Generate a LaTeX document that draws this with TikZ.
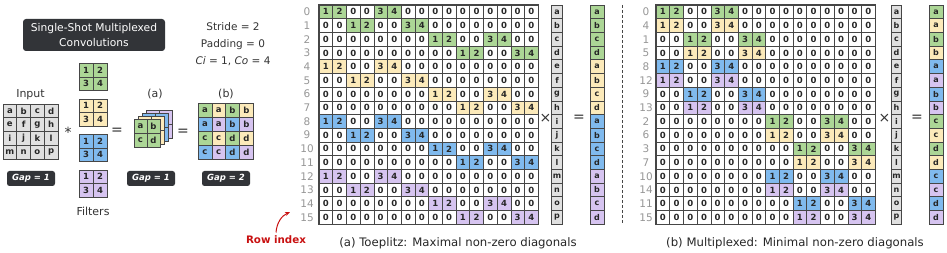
\documentclass[tikz,border=0pt]{standalone}
\usepackage{fontspec}
\setmainfont{DejaVu Sans}
\usetikzlibrary{arrows.meta,positioning}

\definecolor{ch0}{RGB}{172,214,150}
\definecolor{ch1}{RGB}{252,234,186}
\definecolor{ch2}{RGB}{128,186,238}
\definecolor{ch3}{RGB}{214,196,240}
\definecolor{vecgray}{RGB}{224,224,224}
\definecolor{boxdark}{RGB}{50,52,56}
\definecolor{gridline}{RGB}{70,70,70}
\definecolor{idxgray}{RGB}{150,150,150}
\definecolor{rowred}{RGB}{200,16,16}

\begin{document}
\begin{tikzpicture}[x=1pt, y=-1pt,
        cell/.style={draw=gridline, line width=0.6pt, minimum width=13.7pt, minimum height=13.7pt, inner sep=0pt, font=\fontsize{8.5}{9}\selectfont\bfseries, text=black!85},
        veccell/.style={cell, minimum width=10.5pt, fill=vecgray, font=\fontsize{8}{9}\selectfont\bfseries},
        rescell/.style={cell, minimum width=14pt, font=\fontsize{8}{9}\selectfont\bfseries},
        smallcell/.style={cell, minimum width=13.8pt, minimum height=13.8pt},
        rowlab/.style={font=\fontsize{10.5}{11}\selectfont, text=idxgray},
        border/.style={draw=gridline, line width=1pt},
        darkbox/.style={fill=boxdark, text=white, rounded corners=3pt, align=center},
        gapbox/.style={darkbox, rounded corners=2.5pt, minimum width=48pt, minimum height=15pt, inner sep=0pt, font=\fontsize{8.5}{9}\selectfont\bfseries\itshape},
        plain/.style={font=\fontsize{11}{12}\selectfont, text=black!80},
        op/.style={font=\fontsize{14}{14}\selectfont, text=black!80},
        caption/.style={font=\fontsize{11.7}{13}\selectfont, text=black!85},
        sepline/.style={draw=gridline, line width=1pt, dash pattern=on 3pt off 2pt},
        rowarrow/.style={-{Stealth[length=5pt,width=4pt]}, line width=1pt, draw=rowred}
      ]
      \useasboundingbox (0,0) rectangle (947,253);

      % left panel
      \node[darkbox, minimum width=142pt, minimum height=32pt, inner sep=2pt, font=\fontsize{10.7}{14.5}\selectfont] (title) at (94,35) {Single-Shot Multiplexed\\Convolutions};
      \node[plain, align=center, font=\fontsize{10.5}{17}\selectfont] (params) at (233,44) {Stride = 2\\Padding = 0\\\textit{Ci} = 1, \textit{Co} = 4};

      \node[plain] (inputlab) at (30.5,95) {Input};
      \foreach \l [count=\k from 0] in {a,...,p}{
        \pgfmathtruncatemacro\rr{\k/4}
        \pgfmathtruncatemacro\cc{mod(\k,4)}
        \node[smallcell, minimum width=13.75pt, fill=vecgray] (inp-\k) at ({3+13.75*(\cc+0.5)},{104+13.75*(\rr+0.5)}) {\l};
      }
      \node[gapbox] (gapin) at (31,178.5) {Gap = 1};

      \node[op] (conv) at (68,132) {*};
      \foreach \f in {0,...,3}{
        \foreach \v [count=\k from 0] in {1,2,3,4}{
          \pgfmathtruncatemacro\rr{\k/2}
          \pgfmathtruncatemacro\cc{mod(\k,2)}
          \node[cell, minimum width=14pt, minimum height=13.5pt, fill=ch\f] (filt-\f-\k) at ({86+14*\cc},{70.25+35.5*\f+13.5*\rr}) {\v};
        }
      }
      \node[plain] (filterlab) at (93,211) {Filters};

      \node[op] (eqone) at (117,131) {=};
      \node[plain] (alab) at (155,94) {(a)};
      \foreach \lay in {3,2,1,0}{
        \foreach \l [count=\k from 0] in {a,b,c,d}{
          \pgfmathtruncatemacro\rr{\k/2}
          \pgfmathtruncatemacro\cc{mod(\k,2)}
          \node[cell, minimum width=13pt, minimum height=14pt, fill=ch\lay] (stack-\lay-\k) at ({140.5+13*\cc+4*\lay},{126+14*\rr-3*\lay}) {\ifnum\lay=0 \l\fi};
        }
      }
      \node[gapbox] (gapa) at (151,178.5) {Gap = 1};

      \node[op] (eqtwo) at (183,132) {=};
      \node[plain] (blab) at (226,94) {(b)};
      \foreach \l/\cl [count=\k from 0] in {a/0,a/1,b/0,b/1,a/2,a/3,b/2,b/3,c/0,c/1,d/0,d/1,c/2,c/3,d/2,d/3}{
        \pgfmathtruncatemacro\rr{\k/4}
        \pgfmathtruncatemacro\cc{mod(\k,4)}
        \node[smallcell, fill=ch\cl] (outb-\k) at ({198+13.8*(\cc+0.5)},{103+14*(\rr+0.5)}) {\l};
      }
      \node[gapbox] (gapb) at (226,178.5) {Gap = 2};

      \node[font=\fontsize{10.3}{11}\selectfont\bfseries, text=rowred] (rowidx) at (276,240) {Row index};
      \coordinate (rowtip) at (290,212);
      \draw[rowarrow] (rowidx.north) to[out=85,in=205] (rowtip);

      % (a) Toeplitz
      \foreach \r in {0,...,15}{
        \pgfmathtruncatemacro\ch{\r/4}
        \pgfmathtruncatemacro\pos{mod(\r,4)}
        \pgfmathtruncatemacro\base{2*mod(\pos,2)+8*floor(\pos/2)}
        \node[rowlab] (ta-lab-\r) at (307,{11.85+13.7*\r}) {\r};
        \foreach \c in {0,...,15}{
          \pgfmathtruncatemacro\off{\c-\base}
          \pgfmathtruncatemacro\val{(\off==0)+2*(\off==1)+3*(\off==4)+4*(\off==5)}
          \ifnum\val=0 \def\cfill{white}\else\def\cfill{ch\ch}\fi
          \node[cell, fill=\cfill] (ta-\r-\c) at ({325.85+13.7*\c},{11.85+13.7*\r}) {\val};
        }
      }
      \draw[border] (ta-0-0.north west) rectangle (ta-15-15.south east);
      \foreach \l [count=\k from 0] in {a,...,p}{
        \node[veccell] (xa-\k) at (557,{11.85+13.7*\k}) {\l};
      }
      \foreach \l/\cl [count=\k from 0] in {a/0,b/0,c/0,d/0,a/1,b/1,c/1,d/1,a/2,b/2,c/2,d/2,a/3,b/3,c/3,d/3}{
        \node[rescell, fill=ch\cl] (ya-\k) at (597,{11.85+13.7*\k}) {\l};
      }
      \node[op] (timesa) at (545.5,118) {×};
      \node[op] (eqa) at (579,118) {=};
      \node[caption] (capa) at (458,243) {(a) Toeplitz: Maximal non-zero diagonals};

      \coordinate (septop) at (622,5);
      \coordinate (sepbot) at (622,223);
      \draw[sepline] (septop) -- (sepbot);

      % (b) Multiplexed
      \foreach \r [count=\k from 0] in {0,4,1,5,8,12,9,13,2,6,3,7,10,14,11,15}{
        \pgfmathtruncatemacro\ch{\r/4}
        \pgfmathtruncatemacro\pos{mod(\r,4)}
        \pgfmathtruncatemacro\base{2*mod(\pos,2)+8*floor(\pos/2)}
        \node[rowlab] (mb-lab-\k) at (646,{11.85+13.7*\k}) {\r};
        \foreach \c in {0,...,15}{
          \pgfmathtruncatemacro\off{\c-\base}
          \pgfmathtruncatemacro\val{(\off==0)+2*(\off==1)+3*(\off==4)+4*(\off==5)}
          \ifnum\val=0 \def\cfill{white}\else\def\cfill{ch\ch}\fi
          \node[cell, fill=\cfill] (mb-\k-\c) at ({662.85+13.7*\c},{11.85+13.7*\k}) {\val};
        }
      }
      \draw[border] (mb-0-0.north west) rectangle (mb-15-15.south east);
      \foreach \l [count=\k from 0] in {a,...,p}{
        \node[veccell] (xb-\k) at (896.5,{11.85+13.7*\k}) {\l};
      }
      \foreach \l/\cl [count=\k from 0] in {a/0,a/1,b/0,b/1,a/2,a/3,b/2,b/3,c/0,c/1,d/0,d/1,c/2,c/3,d/2,d/3}{
        \node[rescell, fill=ch\cl] (yb-\k) at (936,{11.85+13.7*\k}) {\l};
      }
      \node[op] (timesb) at (884.5,118) {×};
      \node[op] (eqb) at (917,118) {=};
      \node[caption] (capb) at (795,243) {(b) Multiplexed: Minimal non-zero diagonals};
    \end{tikzpicture}
\end{document}
